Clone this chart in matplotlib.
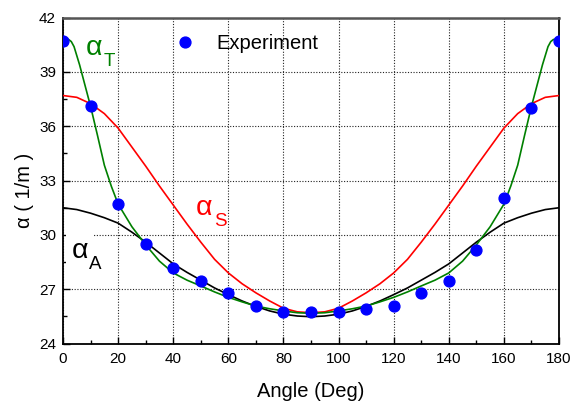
import matplotlib
matplotlib.use("Agg")
import matplotlib.pyplot as plt
from matplotlib.ticker import MultipleLocator

plt.rcParams['font.family'] = ['Liberation Sans', 'DejaVu Sans']

# measured points
exp_angle = [0, 10, 20, 30, 40, 50, 60, 70, 80, 90, 100, 110, 120, 130, 140, 150, 160, 170, 180]
exp_alpha = [40.7, 37.1, 31.7, 29.5, 28.15, 27.47, 26.8, 26.1, 25.76, 25.76, 25.76, 25.9,
             26.07, 26.77, 27.47, 29.15, 32.02, 37.0, 40.7]

# model curves
ang5 = [0, 5, 10, 15, 20, 25, 30, 35, 40, 45, 50, 55, 60, 65, 70, 75, 80, 85, 90,
        95, 100, 105, 110, 115, 120, 125, 130, 135, 140, 145, 150, 155, 160, 165, 170, 175, 180]
alpha_s = [37.7, 37.6, 37.25, 36.7, 35.9, 34.85, 33.8, 32.7, 31.65, 30.6, 29.6, 28.65, 27.9,
           27.3, 26.8, 26.35, 25.95, 25.75, 25.7,
           25.75, 25.95, 26.35, 26.8, 27.3, 27.9, 28.65, 29.6, 30.6, 31.65, 32.7, 33.8,
           34.85, 35.9, 36.7, 37.25, 37.6, 37.7]
alpha_a = [31.5, 31.4, 31.2, 30.95, 30.65, 30.15, 29.6, 29.0, 28.4, 27.93, 27.5, 27.07, 26.7,
           26.35, 26.05, 25.8, 25.62, 25.52, 25.48,
           25.52, 25.62, 25.8, 26.05, 26.35, 26.7, 27.07, 27.5, 27.93, 28.4, 29.0, 29.6,
           30.15, 30.65, 30.95, 31.2, 31.4, 31.5]

ang_t = [0, 1, 2, 3, 4, 6, 8, 10, 12.5, 15, 17.5, 20, 25, 30, 35, 40, 45, 50, 55, 60, 65, 70,
         75, 80, 85, 90, 95, 100, 105, 110, 115, 120, 125, 130, 135, 140, 145, 150, 155, 160,
         162.5, 165, 167.5, 170, 172, 174, 176, 177, 178, 179, 180]
alpha_t = [40.7, 40.78, 40.8, 40.68, 40.4, 39.4, 38.25, 37.1, 35.5, 33.85, 32.7, 31.7, 30.45,
           29.45, 28.55, 27.9, 27.5, 27.18, 26.85, 26.55, 26.3, 26.07, 25.92, 25.8, 25.7, 25.67,
           25.7, 25.8, 25.92, 26.07, 26.3, 26.55, 26.85, 27.18, 27.5, 27.9, 28.55, 29.45, 30.45,
           31.7, 32.7, 33.85, 35.5, 37.1, 38.25, 39.4, 40.4, 40.68, 40.8, 40.78, 40.7]

fig = plt.figure(figsize=(5.73, 4.03), dpi=100)
ax = fig.add_axes([0.110, 0.1476, 0.8656, 0.8085])

ax.plot(ang5, alpha_s, color='#ff0000', lw=1.2, zorder=3)
ax.plot(ang5, alpha_a, color='black', lw=1.2, zorder=3)
ax.plot(ang_t, alpha_t, color='#008000', lw=1.2, zorder=3)
ax.plot(exp_angle, exp_alpha, 'o', color='#0000ff', ms=7.8, mec='#0000ff',
        label='Experiment', zorder=4)

ax.set_xlim(0, 180)
ax.set_ylim(24, 42)
ax.xaxis.set_major_locator(MultipleLocator(20))
ax.xaxis.set_minor_locator(MultipleLocator(10))
ax.yaxis.set_major_locator(MultipleLocator(3))
ax.yaxis.set_minor_locator(MultipleLocator(1.5))
ax.tick_params(which='both', direction='in', top=False, right=False, labelsize=11)
ax.tick_params(which='major', length=5, width=1)
ax.tick_params(which='minor', length=3, width=1)
ax.tick_params(axis='x', pad=6)
ax.tick_params(axis='y', pad=5)
ax.grid(True, which='major', color='#222222', linestyle=(0, (1, 1.5)), lw=0.8, zorder=1)

for side in ['left', 'bottom', 'right']:
    ax.spines[side].set_linewidth(1.3)
    ax.spines[side].set_color('black')
ax.spines['top'].set_linewidth(1.8)
ax.spines['top'].set_color('#555555')

fig.text(310.8 / 573, 0.016, 'Angle (Deg)', fontsize=14.5, ha='center', va='baseline')
fig.text(25 / 573, 1 - 190 / 403, '\u03b1 ( 1/m )', fontsize=14.5, rotation=90,
         ha='center', va='center')

labels = [(8.4, 39.94, 'T', '#008000', None),
          (48.3, 31.1, 'S', '#ff0000', None),
          (3.2, 28.72, 'A', 'black', dict(facecolor='white', edgecolor='none', pad=4))]
for lx, ly, sub, col, box in labels:
    ax.text(lx, ly, '\u03b1', fontsize=20.5, color=col, ha='left', va='baseline', zorder=5,
            bbox=box)
    ax.annotate(sub, xy=(lx, ly), xytext=(12.6, -8), textcoords='offset points',
                fontsize=13.5, color=col, ha='left', va='baseline', zorder=6)

ax.legend(loc='upper left', bbox_to_anchor=(0.226, 0.95), frameon=False, fontsize=14.5,
          handlelength=1.0, handletextpad=1.05, borderpad=0, borderaxespad=0, numpoints=1)

fig.savefig('out.png', dpi=100)
